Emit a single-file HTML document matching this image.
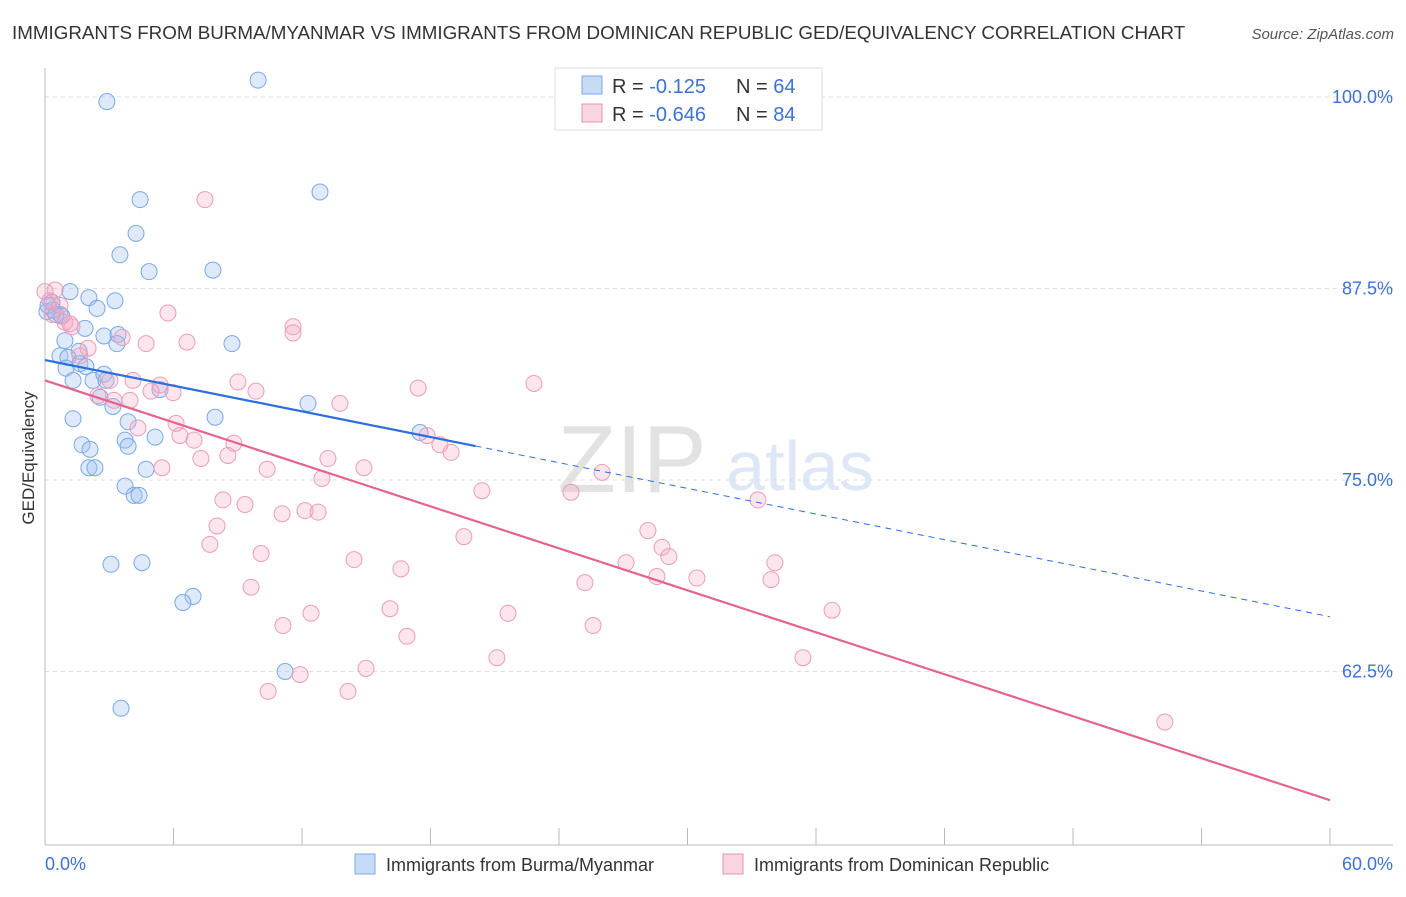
<!DOCTYPE html>
<html><head><meta charset="utf-8"><style>
body{margin:0;background:#fff;font-family:"Liberation Sans",sans-serif;}
svg text{font-family:"Liberation Sans",sans-serif;}
</style></head><body>
<svg id="chart" width="1406" height="892" viewBox="0 0 1406 892">
<text x="12" y="39" font-size="18.8" fill="#333">IMMIGRANTS FROM BURMA/MYANMAR VS IMMIGRANTS FROM DOMINICAN REPUBLIC GED/EQUIVALENCY CORRELATION CHART</text>
<text x="1394" y="39" font-size="15" fill="#555" font-style="italic" text-anchor="end">Source: ZipAtlas.com</text>
<g opacity="0.18">
<text x="632" y="492" font-size="96" font-family="Liberation Serif" fill="#666" text-anchor="middle">ZIP</text>
<text x="800" y="490" font-size="70" fill="#4a80d0" text-anchor="middle">atlas</text>
</g>
<g id="grid"></g><g id="axes"></g><g id="pts"></g><g id="lines"></g>
<text x="34" y="458" font-size="17" fill="#333" text-anchor="middle" transform="rotate(-90 34 458)">GED/Equivalency</text>
<text x="45" y="870" font-size="18" fill="#3d72d4">0.0%</text>
<text x="1393" y="870" font-size="18" fill="#3d72d4" text-anchor="end">60.0%</text>
<g>
<rect x="555" y="68" width="267" height="62" fill="#fff" stroke="#ddd"/>
<rect x="582" y="76" width="20" height="18" fill="rgba(160,196,240,0.6)" stroke="#7aaae8"/>
<rect x="582" y="104" width="20" height="18" fill="rgba(244,170,196,0.5)" stroke="#e890b0"/>
<text x="612" y="93" font-size="20" fill="#333">R = <tspan fill="#3d72d4"> -0.125</tspan><tspan x="736">N = </tspan><tspan fill="#3d72d4">64</tspan></text>
<text x="612" y="121" font-size="20" fill="#333">R = <tspan fill="#3d72d4">-0.646</tspan><tspan x="736">N = </tspan><tspan fill="#3d72d4">84</tspan></text>
</g>
<g>
<rect x="355" y="854" width="20" height="20" fill="rgba(160,196,240,0.6)" stroke="#7aaae8"/>
<text x="386" y="871" font-size="18" fill="#333">Immigrants from Burma/Myanmar</text>
<rect x="723" y="854" width="20" height="20" fill="rgba(244,170,196,0.5)" stroke="#e890b0"/>
<text x="754" y="871" font-size="18" fill="#333">Immigrants from Dominican Republic</text>
</g>
</svg>
<script>
const yTicks=[100,87.5,75,62.5];
const yTickLabels=["100.0%","87.5%","75.0%","62.5%"];
const xTicks=[0,6,12,18,24,30,36,42,48,54,60];
const blueX=[9.95,2.89,4.44,12.84,4.25,3.50,4.86,7.84,1.17,2.05,3.27,2.43,0.33,0.09,0.70,1.87,2.75,3.41,3.36,0.93,1.59,8.73,0.70,1.07,1.63,1.91,0.98,1.31,2.24,2.75,2.85,5.37,2.57,3.17,12.28,7.94,1.31,3.88,3.74,5.14,3.88,1.73,2.10,4.72,2.05,2.33,3.74,4.16,4.39,3.08,4.53,6.91,6.44,11.21,3.55,17.51,0.37,0.14,0.51,0.79];
const blueY=[101.1,99.7,93.3,93.8,91.1,89.7,88.6,88.7,87.3,86.9,86.7,86.2,86.6,86.0,85.8,84.9,84.4,84.5,83.9,84.1,83.4,83.9,83.1,83.0,82.6,82.4,82.3,81.5,81.5,81.9,81.5,80.9,80.4,79.8,80.0,79.1,79.0,78.8,77.6,77.8,77.2,77.3,77.0,75.7,75.8,75.8,74.6,74.0,74.0,69.5,69.6,67.4,67.0,62.5,60.1,78.1,86.1,86.4,85.8,85.7];
const pinkX=[7.47,5.74,11.58,11.58,6.63,4.72,3.60,1.26,0.93,0.33,0.23,0.47,2.01,1.63,9.01,9.85,17.42,22.83,5.37,5.98,4.95,4.11,3.03,3.97,2.47,3.22,13.77,6.12,6.30,6.96,4.34,8.82,8.54,7.28,13.21,14.89,10.37,5.46,12.93,17.84,18.44,18.96,26.01,20.40,24.56,33.29,8.31,9.34,11.07,12.14,12.75,8.03,19.56,28.15,7.70,10.09,14.43,16.62,28.81,29.13,27.13,25.21,28.57,30.44,33.90,34.08,9.62,16.11,21.62,12.42,11.11,25.59,36.75,16.90,21.10,35.39,14.99,11.91,10.42,14.15,52.29,0,0.70,1.17];
const pinkY=[93.3,85.9,85.0,84.6,84.0,83.9,84.3,85.0,85.3,85.8,86.7,87.4,83.6,83.1,81.4,80.8,81.0,81.3,81.2,80.7,80.8,81.5,81.5,80.2,80.5,80.2,80.0,78.7,77.9,77.6,78.4,77.4,76.6,76.4,76.4,75.8,75.7,75.8,75.1,77.9,77.3,76.8,75.5,74.3,74.2,73.7,73.7,73.4,72.8,73.0,72.9,72.0,71.3,71.7,70.8,70.2,69.8,69.2,70.6,70.0,69.6,68.3,68.7,68.6,68.5,69.6,68.0,66.6,66.3,66.3,65.5,65.5,66.5,64.8,63.4,63.4,62.7,62.3,61.2,61.2,59.2,87.3,86.4,85.2];
const blueFit=[82.83,-0.2792];
const pinkFit=[81.5,-0.4567];
const blueSolidEnd=20.1;
const NS="http://www.w3.org/2000/svg";
const X0=45,X1=1330,Y100=97,PX_PER=191.5/12.5;
function sx(v){return X0+(X1-X0)*v/60;}
function sy(v){return Y100+(100-v)*PX_PER;}
function mk(tag,attrs,parent){const e=document.createElementNS(NS,tag);for(const k in attrs)e.setAttribute(k,attrs[k]);parent.appendChild(e);return e;}
const grid=document.getElementById('grid'),axes=document.getElementById('axes'),pts=document.getElementById('pts'),lines=document.getElementById('lines');
yTicks.forEach((t,i)=>{
 const l=mk('line',{x1:X0,x2:1393,y1:sy(t),y2:sy(t),stroke:'#ddd','stroke-dasharray':'4 4'},grid);
 
 
 const tx=mk('text',{x:1393,y:sy(t)+6,'font-size':18,fill:'#3d72d4','text-anchor':'end'},grid);
 tx.textContent=yTickLabels[i];
 
 
});
const ax=mk('line',{x1:X0,x2:X0,y1:68,y2:845,stroke:'#bbb'},axes);


const bx=mk('line',{x1:X0,x2:1393,y1:845,y2:845,stroke:'#bbb'},axes);


xTicks.forEach(t=>{
 const l=mk('line',{x1:sx(t),x2:sx(t),y1:828,y2:845,stroke:'#bbb'},axes);
 
 
});
blueX.forEach((v,i)=>{
 const c=mk('circle',{cx:sx(v),cy:sy(blueY[i]),r:8,fill:'rgba(160,196,240,0.35)',stroke:'#7aa8e6','stroke-width':1},pts);
 
 
});
pinkX.forEach((v,i)=>{
 const c=mk('circle',{cx:sx(v),cy:sy(pinkY[i]),r:8,fill:'rgba(244,170,196,0.3)',stroke:'#eb9cba','stroke-width':1},pts);
 
 
});
function fy(f,x){return f[0]+f[1]*x;}
const b1=mk('line',{x1:sx(0),y1:sy(fy(blueFit,0)),x2:sx(blueSolidEnd),y2:sy(fy(blueFit,blueSolidEnd)),stroke:'#2a6fdb','stroke-width':2.2},lines);


const b2=mk('line',{x1:sx(blueSolidEnd),y1:sy(fy(blueFit,blueSolidEnd)),x2:sx(60),y2:sy(fy(blueFit,60)),stroke:'#2a6fdb','stroke-width':1,'stroke-dasharray':'6 5'},lines);


const p1=mk('line',{x1:sx(0),y1:sy(fy(pinkFit,0)),x2:sx(60),y2:sy(fy(pinkFit,60)),stroke:'#e4638f','stroke-width':2.2},lines);


</script>
</body></html>
